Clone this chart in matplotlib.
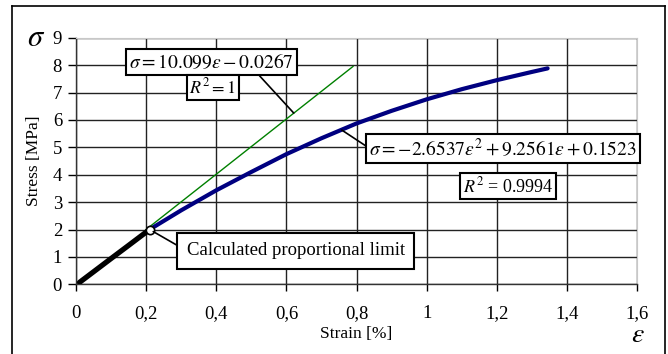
import matplotlib
matplotlib.use("Agg")
import matplotlib.pyplot as plt
from matplotlib.lines import Line2D

plt.rcParams['font.family'] = ['Liberation Serif', 'DejaVu Serif']
plt.rcParams['mathtext.fontset'] = 'stix'

# datos
strain_lin = [0.01, 0.05, 0.10, 0.15, 0.21]
stress_lin = [0.07, 0.456, 0.94, 1.42, 2.00]

strain_curve = [0.21, 0.30, 0.40, 0.50, 0.60, 0.70, 0.80, 0.90, 1.00, 1.10, 1.20, 1.30, 1.345]
stress_curve = [2.00, 2.70, 3.43, 4.10, 4.75, 5.33, 5.87, 6.33, 6.75, 7.12, 7.45, 7.75, 7.88]

fit_strain = [0.20, 0.79]
fit_stress = [2.00, 7.95]

prop_limit = (0.21, 2.0)

xticks = [0, 0.2, 0.4, 0.6, 0.8, 1.0, 1.2, 1.4, 1.6]
xticklabels = ['0', '0,2', '0,4', '0,6', '0,8', '1', '1,2', '1,4', '1,6']
yticks = list(range(0, 10))

fig = plt.figure(figsize=(6.68, 3.54), dpi=100)
fig.patch.set_facecolor('white')
ax = fig.add_axes([76 / 668, 1 - 284.3 / 354, 561 / 668, 246.6 / 354])

# marco exterior
fl, ft, fr = 12 / 668, 1 - 6 / 354, 665 / 668
for xs, ys in [([fl, fl], [0, ft]), ([fl, fr], [ft, ft]), ([fr, fr], [ft, 0])]:
    fig.add_artist(Line2D(xs, ys, color='black', lw=1.2, transform=fig.transFigure))

ax.set_xlim(0, 1.6)
ax.set_ylim(0, 9)
ax.set_xticks(xticks)
ax.set_xticklabels(xticklabels)
ax.set_yticks(yticks)
ax.grid(True, color='#222222', lw=1.0)
ax.set_axisbelow(True)
for s in ['top', 'right']:
    ax.spines[s].set_color('#c8c8c8')
for s in ['left', 'bottom']:
    ax.spines[s].set_color('#333333')
    ax.spines[s].set_linewidth(1.0)
ax.tick_params(axis='x', direction='out', length=5, width=1, pad=10, labelsize=13.5)
ax.tick_params(axis='y', direction='out', length=6, width=1, pad=4, labelsize=13.5)

ax.plot(fit_strain, fit_stress, color='#008000', lw=1.0, zorder=3)
ax.plot(strain_curve, stress_curve, color='#000080', lw=3.0, solid_capstyle='round', zorder=4)
ax.plot(strain_lin, stress_lin, color='black', lw=3.8, solid_capstyle='round', zorder=5)
ax.plot(*prop_limit, marker='o', ms=6, mfc='white', mec='black', mew=1.2, zorder=6)

ax.set_ylabel('Stress [MPa]', fontsize=12.5, labelpad=8)
ax.set_xlabel('Strain [%]', fontsize=12.5, labelpad=3)
fig.text(36 / 668, 1 - 38 / 354, r'$\sigma$', fontsize=22, ha='center', va='center')
fig.text(638 / 668, 1 - 336 / 354, r'$\varepsilon$', fontsize=20, ha='center', va='center')

box = dict(boxstyle='square,pad=0.15', fc='white', ec='black', lw=1.5)
lead = dict(arrowstyle='-', color='black', lw=1.2, shrinkA=0, shrinkB=0)

ax.annotate(r'$\sigma = 10.099\varepsilon - 0.0267$', xy=(0.621, 6.25), xytext=(0.387, 8.11),
            fontsize=14, ha='center', va='center', bbox=box,
            arrowprops=dict(lead, relpos=(0.77, 0.0)), zorder=7)
ax.text(0.390, 7.18, r'$R^2 = 1$', fontsize=13, ha='center', va='center', bbox=box, zorder=7)

ax.annotate(r'$\sigma = -2.6537\varepsilon^2 + 9.2561\varepsilon + 0.1523$', xy=(0.758, 5.63),
            xytext=(1.218, 4.97), fontsize=14, ha='center', va='center', bbox=box,
            arrowprops=dict(lead, relpos=(0.0, 0.5)), zorder=7)
ax.text(1.232, 3.59, r'$R^2$ = 0.9994', fontsize=13, ha='center', va='center', bbox=box, zorder=7)

ax.annotate('Calculated proportional limit', xy=prop_limit, xytext=(0.627, 1.22),
            fontsize=13.5, ha='center', va='center',
            bbox=dict(boxstyle='square,pad=0.5', fc='white', ec='black', lw=1.5),
            arrowprops=dict(lead, relpos=(0.0, 0.5), shrinkB=3), zorder=7)

plt.savefig('out.png', dpi=100)
plt.close()
